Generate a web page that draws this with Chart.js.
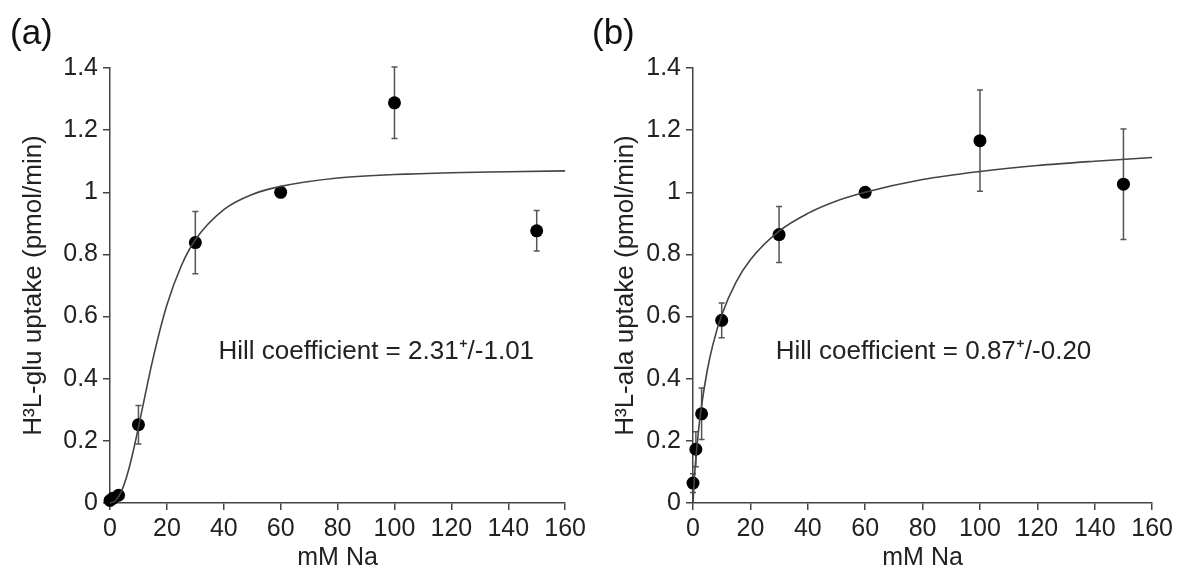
<!DOCTYPE html>
<html lang="en">
<head>
  <meta charset="UTF-8" />
  <title>Na dependence of uptake</title>
  <script src="https://cdn.jsdelivr.net/npm/chart.js"></script>
  <style>
    body { margin: 0; background: #fff; width: 1177px; height: 578px; position: relative; overflow: hidden; font-family: "Liberation Sans", Arial, sans-serif; }
    .panel { position: absolute; top: 0; height: 578px; }
    .tag { position: absolute; font-size: 35px; color: #111; }
  </style>
</head>
<body>
  <div class="panel" style="left:0;width:590px"><canvas id="chartA" width="590" height="578"></canvas></div>
  <div class="panel" style="left:583px;width:594px"><canvas id="chartB" width="594" height="578"></canvas></div>
  <div class="tag" style="left:10px;top:12px">(a)</div>
  <div class="tag" style="left:592px;top:12px">(b)</div>

  <script>
    // panel (a) - glutamate
    const gluNa = [0, 1, 3, 10, 30, 60, 100, 150];
    const gluUptake = [0.008, 0.015, 0.025, 0.252, 0.838, 1.0, 1.288, 0.876];
    const gluErr = [0, 0, 0, 0.062, 0.1, 0, 0.115, 0.065];
    const gluFitNa = [0, 2, 4, 6, 8, 10, 12, 15, 20, 25, 30, 40, 50, 60, 80, 100, 120, 140, 160];
    const gluFitUptake = [0, 0.008, 0.037, 0.089, 0.16, 0.244, 0.332, 0.46, 0.637, 0.762, 0.847, 0.944, 0.993, 1.019, 1.046, 1.057, 1.063, 1.066, 1.069];

    // panel (b) - alanine
    const alaNa = [0, 1, 3, 10, 30, 60, 100, 150];
    const alaUptake = [0.064, 0.173, 0.287, 0.588, 0.864, 1.0, 1.166, 1.026];
    const alaErr = [0.03, 0.056, 0.083, 0.056, 0.09, 0, 0.163, 0.178];
    const alaFitNa = [0, 0.5, 1, 2, 3, 5, 7, 10, 15, 20, 30, 40, 50, 60, 80, 100, 120, 140, 160];
    const alaFitUptake = [0, 0.083, 0.144, 0.239, 0.314, 0.428, 0.512, 0.605, 0.711, 0.783, 0.875, 0.932, 0.972, 1.0, 1.041, 1.067, 1.086, 1.1, 1.112];

    const xTicks = [0, 20, 40, 60, 80, 100, 120, 140, 160];
    const yTicks = [0, 0.2, 0.4, 0.6, 0.8, 1, 1.2, 1.4];

    Chart.defaults.font.family = '"Liberation Sans", Arial, sans-serif';
    Chart.defaults.font.size = 25;
    Chart.defaults.color = "#222";

    const toPts = (xs, ys) => xs.map((x, i) => ({ x: x, y: ys[i] }));

    // error bars + the Hill coefficient text, placed with the chart's own scales
    const extras = {
      id: "extras",
      beforeDatasetsDraw(chart, args, opts) {
        const ctx = chart.ctx, xs = chart.scales.x, ys = chart.scales.y;
        ctx.save();
        ctx.strokeStyle = "#555";
        ctx.lineWidth = 1.5;
        opts.na.forEach((n, i) => {
          const e = opts.err[i];
          if (!e) return;
          const px = xs.getPixelForValue(n);
          const top = ys.getPixelForValue(opts.val[i] + e);
          const bot = ys.getPixelForValue(opts.val[i] - e);
          ctx.beginPath();
          ctx.moveTo(px, top); ctx.lineTo(px, bot);
          ctx.moveTo(px - 3, top); ctx.lineTo(px + 3, top);
          ctx.moveTo(px - 3, bot); ctx.lineTo(px + 3, bot);
          ctx.stroke();
        });
        ctx.restore();
      },
      afterDraw(chart, args, opts) {
        const ctx = chart.ctx;
        ctx.save();
        ctx.font = '26px "Liberation Sans", Arial, sans-serif';
        ctx.fillStyle = "#222";
        ctx.textAlign = "center";
        ctx.textBaseline = "middle";
        ctx.fillText(opts.note, chart.scales.x.getPixelForValue(opts.noteAt[0]), chart.scales.y.getPixelForValue(opts.noteAt[1]));
        ctx.restore();
      }
    };

    function makeChart(id, na, val, err, fitNa, fitVal, yTitle, note, noteAt, titlePad) {
      return new Chart(document.getElementById(id), {
        type: "scatter",
        data: {
          datasets: [
            { data: toPts(fitNa, fitVal), showLine: true, pointRadius: 0, borderColor: "#444", borderWidth: 1.6, cubicInterpolationMode: "monotone", clip: false },
            { data: toPts(na, val), pointRadius: 6.5, pointHoverRadius: 6.5, backgroundColor: "#000", borderColor: "#000", borderWidth: 0, clip: false }
          ]
        },
        options: {
          responsive: false,
          animation: false,
          events: [],
          layout: { padding: { top: 68, right: 22, left: 0, bottom: 0 } },
          plugins: {
            legend: { display: false },
            tooltip: { enabled: false },
            extras: { na: na, val: val, err: err, note: note, noteAt: noteAt }
          },
          scales: {
            x: {
              type: "linear", min: 0, max: 160,
              afterFit: s => { s.height = 75; },
              afterBuildTicks: s => { s.ticks = xTicks.map(v => ({ value: v })); },
              ticks: { padding: 4, color: "#222", callback: v => String(v) },
              grid: { drawOnChartArea: false, drawTicks: true, tickLength: 7, color: "#444", lineWidth: 1.5 },
              border: { color: "#444", width: 1.5 },
              title: { display: true, text: "mM Na", color: "#222", font: { size: 25 }, padding: { top: 0, bottom: 5 } }
            },
            y: {
              min: 0, max: 1.4,
              afterFit: s => { s.width = 110; },
              afterBuildTicks: s => { s.ticks = yTicks.map(v => ({ value: v })); },
              ticks: { padding: 5, color: "#222", callback: v => String(+v.toFixed(1)) },
              grid: { drawOnChartArea: false, drawTicks: true, tickLength: 7, color: "#444", lineWidth: 1.5 },
              border: { color: "#444", width: 1.5 },
              title: { display: true, text: yTitle, color: "#222", font: { size: 26 }, padding: { top: titlePad, bottom: 0 } }
            }
          }
        },
        plugins: [extras]
      });
    }

    makeChart("chartA", gluNa, gluUptake, gluErr, gluFitNa, gluFitUptake,
      "H³L-glu uptake (pmol/min)", "Hill coefficient = 2.31⁺/-1.01", [93.6, 0.486], 18);
    makeChart("chartB", alaNa, alaUptake, alaErr, alaFitNa, alaFitUptake,
      "H³L-ala uptake (pmol/min)", "Hill coefficient = 0.87⁺/-0.20", [83.8, 0.486], 27);
  </script>
</body>
</html>
